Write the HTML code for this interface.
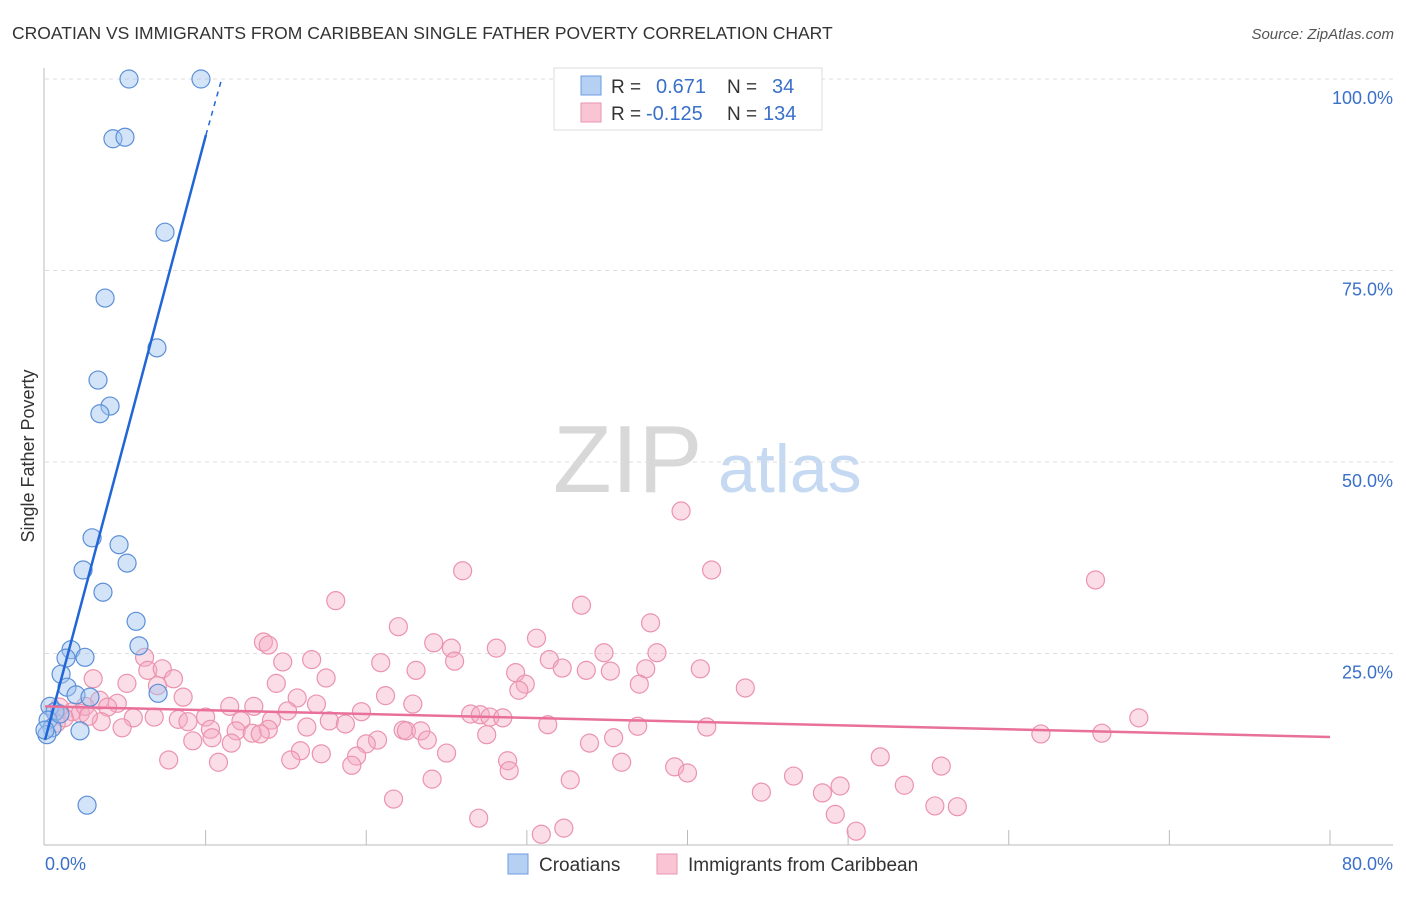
<!DOCTYPE html>
<html><head><meta charset="utf-8"><style>
body{margin:0;background:#fff;font-family:"Liberation Sans",sans-serif;}
svg text{font-family:"Liberation Sans",sans-serif;}
</style></head><body>
<svg id="chart" width="1406" height="892" viewBox="0 0 1406 892" xmlns="http://www.w3.org/2000/svg">
<text x="12" y="39" font-size="17.5" fill="#333">CROATIAN VS IMMIGRANTS FROM CARIBBEAN SINGLE FATHER POVERTY CORRELATION CHART</text>
<text x="1394" y="39" font-size="15" fill="#555" text-anchor="end" font-style="italic">Source: ZipAtlas.com</text>
<g>
<text x="553" y="492" font-size="96" fill="#d8d8d8" font-family="Liberation Serif, serif">ZIP</text>
<text x="718" y="492" font-size="68" fill="#c5d9f2">atlas</text>
</g>
<g id="grid"></g>
<g id="axes"></g>
<g id="pink"></g>
<g id="blue"></g>
<g id="trends"></g>
<text transform="translate(34,456) rotate(-90)" font-size="18" fill="#333" text-anchor="middle">Single Father Poverty</text>
<g>
<rect x="554" y="68" width="268" height="62" fill="#fff" stroke="#ddd"/>
<rect x="581" y="76" width="20" height="19" fill="#b5d0f3" stroke="#6d9be0"/>
<rect x="581" y="103" width="20" height="19" fill="#f9c4d3" stroke="#eb96b0"/>
<text x="611" y="93" font-size="19" fill="#333">R =</text><text x="656" y="93" font-size="20" fill="#3a70c8">0.671</text>
<text x="727" y="93" font-size="19" fill="#333">N =</text><text x="772" y="93" font-size="20" fill="#3a70c8">34</text>
<text x="611" y="120" font-size="19" fill="#333">R =</text><text x="646" y="120" font-size="20" fill="#3a70c8">-0.125</text>
<text x="727" y="120" font-size="19" fill="#333">N =</text><text x="763" y="120" font-size="20" fill="#3a70c8">134</text>
</g>
<g>
<rect x="508" y="854" width="20" height="20" fill="#b5d0f3" stroke="#6d9be0"/>
<text x="539" y="871" font-size="19" fill="#333">Croatians</text>
<rect x="657" y="854" width="20" height="20" fill="#f9c4d3" stroke="#eb96b0"/>
<text x="688" y="871" font-size="19" fill="#333">Immigrants from Caribbean</text>
</g>
</svg>
<script>
const blueX=[5.23,9.71,4.23,4.98,7.47,3.74,6.97,3.30,4.05,3.42,2.93,4.61,5.11,2.37,3.61,5.67,5.85,1.62,1.31,2.49,1.0,1.37,1.93,2.80,7.04,2.18,2.62,0.31,0.62,0.19,0.44,0.12,0.93,0.0];
const blueY=[100,100,92.2,92.4,80.0,71.4,64.9,60.7,57.3,56.3,40.1,39.2,36.8,35.9,33.0,29.2,26.0,25.5,24.4,24.5,22.3,20.6,19.6,19.3,19.8,14.9,5.2,18.1,17.4,16.3,15.3,14.4,17.1,15.0];
const pinkX=[39.6,65.4,26.0,41.5,18.1,33.4,37.7,22.0,30.6,24.2,25.3,13.6,13.9,28.1,34.8,38.1,6.2,14.8,16.6,25.5,31.4,32.2,20.9,23.1,33.7,35.2,40.8,37.4,29.3,6.4,7.3,8.0,17.5,5.1,14.4,29.9,37.0,43.6,29.5,3.0,7.0,8.6,15.7,21.2,3.4,4.5,3.9,11.5,13.0,15.1,16.9,19.7,22.9,26.5,27.1,27.7,28.5,68.1,8.3,5.5,6.8,10.0,8.9,12.2,14.1,17.7,18.7,13.9,4.8,3.5,10.3,11.9,12.9,16.3,22.3,22.5,23.4,31.3,36.9,41.2,62.0,65.8,9.2,10.4,11.6,13.4,23.8,27.5,20.7,20.0,33.9,35.4,15.9,17.2,25.0,19.4,7.7,10.8,15.3,19.1,28.8,35.9,39.2,40.0,52.0,55.8,28.9,24.1,32.7,46.6,49.5,48.4,53.5,44.6,21.7,55.4,56.8,49.2,27.0,32.3,30.9,50.5,1.7,2.2,1.2,0.9,2.5,0.7,2.7];
const pinkY=[43.6,34.6,35.8,35.9,31.9,31.3,29.0,28.5,27.0,26.4,25.7,26.5,26.1,25.7,25.1,25.1,24.5,23.9,24.2,24.0,24.2,23.1,23.8,22.8,22.8,22.7,23.0,23.0,22.5,22.8,23.0,21.7,21.8,21.1,21.1,21.0,21.0,20.5,20.2,21.7,20.8,19.3,19.2,19.5,18.9,18.5,18.0,18.1,18.1,17.5,18.4,17.4,18.4,17.1,17.0,16.7,16.6,16.6,16.4,16.6,16.7,16.7,16.1,16.2,16.3,16.2,15.8,15.1,15.3,16.1,15.1,14.9,14.6,15.4,15.0,14.9,14.9,15.7,15.5,15.4,14.5,14.6,13.6,14.0,13.3,14.5,13.7,14.4,13.7,13.2,13.3,14.0,12.3,11.9,12.0,11.6,11.1,10.8,11.1,10.4,11.0,10.8,10.2,9.4,11.5,10.3,9.7,8.6,8.5,9.0,7.7,6.8,7.8,6.9,6.0,5.1,5.0,4.0,3.5,2.2,1.4,1.8,17.4,17.2,16.6,18.0,18.1,15.9,16.8];
const yTicks=[25,50,75,100];
const yTickLabels=["25.0%","50.0%","75.0%","100.0%"];
const xTickLabels=["0.0%","80.0%"];
const blueTrend=[0,13.7,10.02,92.7,11.0,100];
const pinkTrend=[0,18.1,80,14.1];

const NS="http://www.w3.org/2000/svg";
const X=v=>45+v*16.0625, Y=v=>845-v*7.66;
function mk(tag,attrs,parent){const e=document.createElementNS(NS,tag);for(const k in attrs)e.setAttribute(k,attrs[k]);document.getElementById(parent).appendChild(e);return e;}
yTicks.forEach((t,i)=>{
  const l=mk('line',{x1:45,x2:1393,y1:Y(t),y2:Y(t),stroke:'#ddd','stroke-dasharray':'4,4'},'grid');
  
  
  const tx=mk('text',{x:1393,y:Y(t)+25,'font-size':18,fill:'#3a70c8','text-anchor':'end'},'grid');
  tx.textContent=yTickLabels[i];
  
  
});
mk('line',{x1:44,x2:44,y1:68,y2:845,stroke:'#bbb'},'axes');
mk('line',{x1:44,x2:1393,y1:845,y2:845,stroke:'#bbb'},'axes');
for(let i=1;i<=8;i++){const t=mk('line',{x1:X(i*10),x2:X(i*10),y1:830,y2:845,stroke:'#bbb'},'axes');}
let a=mk('text',{x:45,y:870,'font-size':18,fill:'#3a70c8'},'axes');a.textContent=xTickLabels[0];

a=mk('text',{x:1393,y:870,'font-size':18,fill:'#3a70c8','text-anchor':'end'},'axes');a.textContent=xTickLabels[1];

pinkX.forEach((v,i)=>{const c=mk('circle',{cx:X(v),cy:Y(pinkY[i]),r:9,fill:'rgba(246,170,195,0.4)',stroke:'#eb93ae','stroke-width':1.2},'pink');

});
blueX.forEach((v,i)=>{const c=mk('circle',{cx:X(v),cy:Y(blueY[i]),r:9,fill:'rgba(160,195,240,0.45)',stroke:'#5b8fd8','stroke-width':1.2},'blue');

});
let t=mk('line',{x1:X(blueTrend[0]),y1:Y(blueTrend[1]),x2:X(blueTrend[2]),y2:Y(blueTrend[3]),stroke:'#2166d6','stroke-width':2.5},'trends');

t=mk('line',{x1:X(blueTrend[2]),y1:Y(blueTrend[3]),x2:X(blueTrend[4]),y2:Y(blueTrend[5]),stroke:'#2166d6','stroke-width':1.5,'stroke-dasharray':'5,5'},'trends');

t=mk('line',{x1:X(pinkTrend[0]),y1:Y(pinkTrend[1]),x2:X(pinkTrend[2]),y2:Y(pinkTrend[3]),stroke:'#e8709a','stroke-width':2.5},'trends');

</script>
</body></html>
